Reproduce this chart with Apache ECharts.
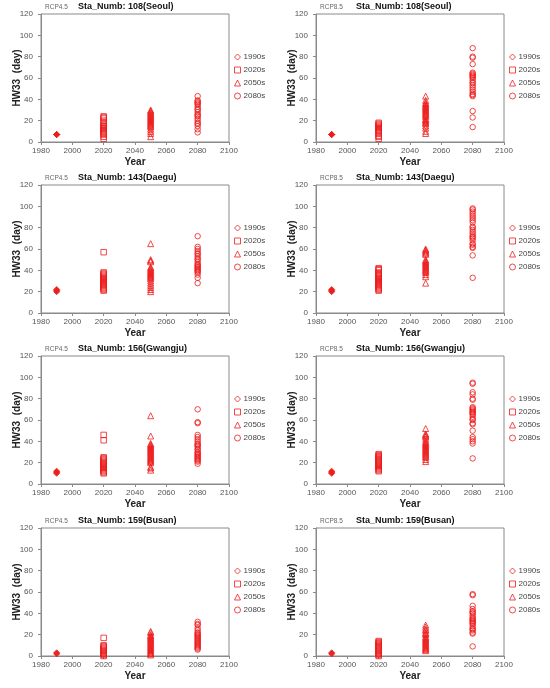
<!DOCTYPE html>
<html>
<head>
<meta charset="utf-8">
<script src="https://cdn.jsdelivr.net/npm/echarts@6/dist/echarts.min.js"></script>
<style>
html,body{margin:0;padding:0;background:#fff;}
#c{width:550px;height:688px;}
</style>
</head>
<body>
<div id="c"></div>
<script>
// ---- Data ----
const decades = ['1990s', '2020s', '2050s', '2080s'];
const decadeYears = [1990, 2020, 2050, 2080];
const symbols = ['diamond', 'rect', 'triangle', 'circle'];
const stationTitles = ['Sta_Numb: 108(Seoul)', 'Sta_Numb: 143(Daegu)', 'Sta_Numb: 156(Gwangju)', 'Sta_Numb: 159(Busan)'];
const scenarios = ['RCP4.5', 'RCP8.5'];
const xTicks = [1980, 2000, 2020, 2040, 2060, 2080, 2100];
const yTicks = [0, 20, 40, 60, 80, 100, 120];

// Seoul
const seoul45_1990s = [7, 7, 7];
const seoul45_2020s = [24, 23, 22, 20, 18, 16, 15, 14, 13, 12, 11, 10, 9, 8, 7, 5, 3];
const seoul45_2050s = [30, 29, 28, 27, 26, 25, 24, 23, 22, 21, 20, 19, 18, 17, 16, 15, 14, 12, 10, 8, 5];
const seoul45_2080s = [43, 39, 38, 37, 36, 35, 33, 31, 30, 28, 26, 25, 24, 22, 20, 18, 17, 15, 12, 9];
const seoul85_1990s = [7, 7, 7];
const seoul85_2020s = [18, 17, 16, 15, 14, 13, 12, 11, 10, 9, 8, 6, 5, 3];
const seoul85_2050s = [43, 39, 37, 36, 35, 34, 33, 32, 31, 30, 29, 28, 27, 26, 25, 24, 22, 21, 20, 19, 18, 17, 15, 13, 10, 8];
const seoul85_2080s = [88, 80, 79, 73, 65, 64, 63, 62, 61, 60, 58, 56, 55, 53, 51, 49, 47, 45, 44, 43, 29, 23, 14];
// Daegu
const daegu45_1990s = [20, 21, 22];
const daegu45_2020s = [57, 38, 37, 36, 35, 34, 33, 32, 31, 30, 29, 28, 27, 26, 25, 24, 23, 22, 21];
const daegu45_2050s = [65, 50, 49, 48, 43, 42, 41, 40, 39, 38, 37, 36, 35, 34, 33, 32, 30, 28, 26, 24, 22, 20];
const daegu45_2080s = [72, 62, 60, 58, 56, 55, 53, 51, 50, 48, 46, 45, 44, 43, 42, 41, 40, 39, 38, 36, 33, 28];
const daegu85_1990s = [20, 21, 22];
const daegu85_2020s = [42, 41, 40, 38, 37, 36, 35, 34, 33, 32, 31, 30, 29, 28, 27, 26, 25, 24, 23, 22, 21];
const daegu85_2050s = [60, 59, 58, 57, 56, 55, 50, 49, 48, 47, 46, 45, 44, 43, 42, 41, 40, 39, 38, 36, 34, 28];
const daegu85_2080s = [98, 97, 95, 93, 91, 89, 87, 85, 81, 80, 78, 76, 74, 72, 71, 70, 68, 65, 64, 62, 61, 54, 33];
// Gwangju
const gwangju45_1990s = [10, 11, 12];
const gwangju45_2020s = [46, 41, 25, 24, 23, 22, 21, 20, 19, 18, 17, 16, 15, 14, 13, 12, 11, 10];
const gwangju45_2050s = [64, 45, 38, 37, 36, 35, 34, 33, 32, 31, 30, 29, 28, 27, 26, 25, 24, 23, 22, 21, 20, 16, 15, 13];
const gwangju45_2080s = [70, 58, 57, 46, 44, 42, 40, 38, 37, 36, 35, 33, 32, 30, 29, 28, 27, 26, 25, 24, 23, 22, 21, 19];
const gwangju85_1990s = [10, 11, 12];
const gwangju85_2020s = [28, 27, 26, 25, 24, 23, 22, 21, 20, 19, 18, 17, 16, 15, 14, 13, 12];
const gwangju85_2050s = [52, 47, 46, 45, 44, 42, 40, 39, 38, 37, 36, 35, 34, 33, 32, 31, 30, 29, 28, 27, 26, 25, 23, 21];
const gwangju85_2080s = [95, 94, 86, 84, 80, 79, 72, 71, 70, 69, 68, 67, 66, 65, 63, 61, 60, 57, 56, 50, 44, 42, 40, 38, 24];
// Busan
const busan45_1990s = [2, 3];
const busan45_2020s = [17, 10, 9, 8, 7, 6, 5, 4, 3, 2, 1, 0];
const busan45_2050s = [23, 22, 20, 19, 18, 17, 16, 15, 14, 13, 12, 11, 10, 9, 8, 7, 6, 5, 4, 3, 2, 1];
const busan45_2080s = [32, 30, 29, 26, 24, 22, 21, 20, 19, 18, 17, 16, 15, 14, 13, 12, 11, 10, 9, 8, 7, 6];
const busan85_1990s = [2, 3];
const busan85_2020s = [14, 13, 12, 11, 10, 9, 8, 7, 6, 5, 4, 3, 2, 1, 0];
const busan85_2050s = [29, 27, 25, 24, 22, 21, 20, 18, 17, 16, 15, 14, 13, 12, 11, 10, 9, 8, 7, 6, 5];
const busan85_2080s = [58, 57, 47, 44, 42, 41, 40, 38, 36, 35, 34, 33, 32, 31, 30, 28, 26, 25, 24, 22, 21, 9];

// panel order: row = station, col = scenario
const panelData = [
  [[seoul45_1990s, seoul45_2020s, seoul45_2050s, seoul45_2080s], [seoul85_1990s, seoul85_2020s, seoul85_2050s, seoul85_2080s]],
  [[daegu45_1990s, daegu45_2020s, daegu45_2050s, daegu45_2080s], [daegu85_1990s, daegu85_2020s, daegu85_2050s, daegu85_2080s]],
  [[gwangju45_1990s, gwangju45_2020s, gwangju45_2050s, gwangju45_2080s], [gwangju85_1990s, gwangju85_2020s, gwangju85_2050s, gwangju85_2080s]],
  [[busan45_1990s, busan45_2020s, busan45_2050s, busan45_2080s], [busan85_1990s, busan85_2020s, busan85_2050s, busan85_2080s]]
];

// ---- Layout ----
const colLeft = [41, 316];
const titleLeft = [78, 356];
const gridW = 188;
const rowTop = [14, 185, 356, 528];
const gridH = 128;
const RED = '#ee1c1c';
const FONT = 'Liberation Sans';

const chart = echarts.init(document.getElementById('c'), null, {renderer: 'canvas'});
const grids = [], xAxes = [], yAxes = [], series = [], titles = [], legends = [];
let idx = 0;
for (let r = 0; r < 4; r++) {
  for (let c = 0; c < 2; c++) {
    const L = colLeft[c], T = rowTop[r];
    grids.push({left: L, top: T, width: gridW, height: gridH, show: true, borderColor: '#8a8a8a', borderWidth: 1, backgroundColor: 'transparent'});
    xAxes.push({
      gridIndex: idx, type: 'value', min: xTicks[0], max: xTicks[xTicks.length - 1], interval: 20,
      name: 'Year', nameLocation: 'middle', nameGap: 15, nameMoveOverlap: false,
      nameTextStyle: {fontFamily: FONT, fontWeight: 'bold', fontSize: 10, color: '#222'},
      axisLine: {show: true, lineStyle: {color: '#8a8a8a'}},
      axisTick: {show: true, inside: false, length: 3, lineStyle: {color: '#8a8a8a'}},
      axisLabel: {fontFamily: FONT, fontSize: 8, color: '#555', margin: 5, formatter: v => String(v)},
      splitLine: {show: false}
    });
    yAxes.push({
      gridIndex: idx, type: 'value', min: yTicks[0], max: yTicks[yTicks.length - 1], interval: 20,
      name: 'HW33  (day)', nameLocation: 'middle', nameGap: 19, nameRotate: 90, nameMoveOverlap: false,
      nameTextStyle: {fontFamily: FONT, fontWeight: 'bold', fontSize: 10, color: '#222'},
      axisLine: {show: true, lineStyle: {color: '#8a8a8a'}},
      axisTick: {show: true, inside: false, length: 3, lineStyle: {color: '#8a8a8a'}},
      axisLabel: {fontFamily: FONT, fontSize: 8, color: '#555', margin: 8},
      splitLine: {show: false}
    });
    titles.push({
      text: scenarios[c], left: L + 4, top: T - 10, padding: 0,
      textStyle: {fontFamily: FONT, fontSize: 6.5, fontWeight: 'normal', color: '#666'}
    });
    titles.push({
      text: stationTitles[r], left: titleLeft[c], top: T - 12, padding: 0,
      textStyle: {fontFamily: FONT, fontSize: 9, fontWeight: 'bold', color: '#111'}
    });
    const names = [];
    for (let k = 0; k < 4; k++) {
      const nm = decades[k];
      names.push(nm);
      series.push({
        name: nm, type: 'scatter', xAxisIndex: idx, yAxisIndex: idx,
        symbol: symbols[k], symbolSize: k === 0 ? 6 : (k === 2 ? 6 : 5.5),
        itemStyle: {color: k === 0 ? RED : 'rgba(255,255,255,0)', borderColor: RED, borderWidth: 1},
        data: panelData[r][c][k].map(v => [decadeYears[k], v]),
        animation: false
      });
    }
    legends.push({
      data: names.map((n, k) => ({name: n, icon: symbols[k], itemStyle: {color: 'rgba(255,255,255,0)', borderColor: RED, borderWidth: 1}})),
      orient: 'vertical', left: L + gridW + 5, top: T + 39, padding: 0,
      itemWidth: 6, itemHeight: 6, itemGap: 5, selectedMode: false,
      textStyle: {fontFamily: FONT, fontSize: 8, color: '#444', padding: [0, 0, 0, -2]}
    });
    idx++;
  }
}

chart.setOption({
  animation: false,
  backgroundColor: '#fff',
  title: titles,
  grid: grids,
  xAxis: xAxes,
  yAxis: yAxes,
  legend: legends,
  series: series
});
</script>
</body>
</html>
